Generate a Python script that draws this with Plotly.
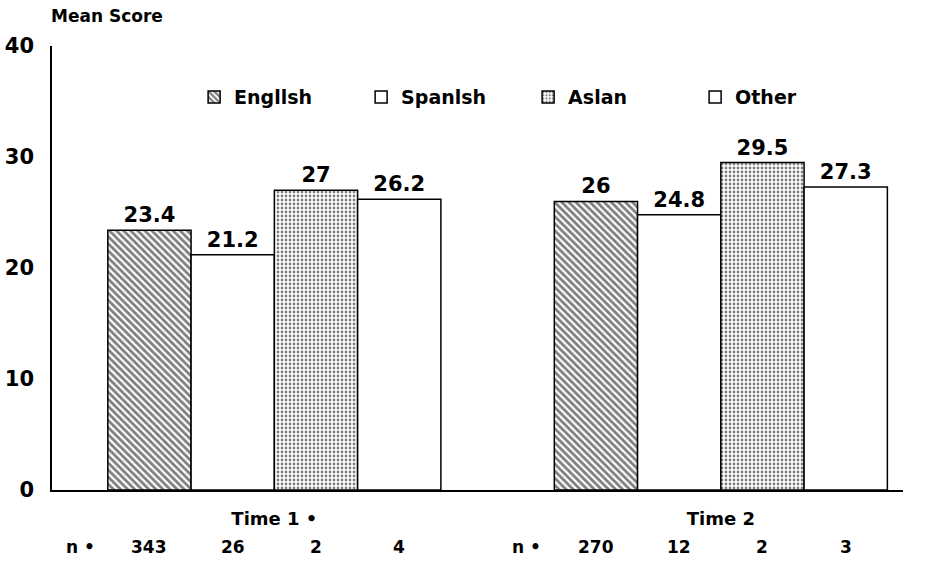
import plotly.graph_objects as go

# Mean scores by home language at two testing times
times = ["Time 1 •", "Time 2"]
languages = ["English", "Spanish", "Asian", "Other"]
scores = {
    "English": [23.4, 26.0],
    "Spanish": [21.2, 24.8],
    "Asian": [27.0, 29.5],
    "Other": [26.2, 27.3],
}
n_counts = {
    "English": [343, 270],
    "Spanish": [26, 12],
    "Asian": [2, 2],
    "Other": [4, 3],
}
legend_names = ["Engllsh", "Spanlsh", "Aslan", "Other"]
patterns = {"English": "\\", "Spanish": "", "Asian": ".", "Other": ""}

FONT = "DejaVu Sans"
BAR_GAP = 0.254

fig = go.Figure()
for lang, lname in zip(languages, legend_names):
    dotted = lang == "Asian"
    fig.add_trace(go.Bar(
        x=times,
        y=scores[lang],
        name=lname,
        text=[f"{v:g}" for v in scores[lang]],
        textposition="outside",
        textfont=dict(family=FONT, size=21, color="black", weight="bold"),
        marker=dict(
            color="white",
            line=dict(color="black", width=1.5),
            pattern=dict(shape=patterns[lang], fgcolor="black", bgcolor="white",
                         size=4 if dotted else 5,
                         solidity=0.38 if dotted else 0.55),
        ),
        cliponaxis=False,
    ))

# sample sizes beneath each bar
bar_w = (1 - BAR_GAP) / len(languages)
n_font = dict(family=FONT, size=17, color="black", weight="bold")
annotations = []
for ti in range(len(times)):
    annotations.append(dict(
        x=ti - 0.435, y=-0.155, xref="x", yref="paper", text="n •",
        showarrow=False, font=n_font,
    ))
    for j, lang in enumerate(languages):
        off = (j - (len(languages) - 1) / 2) * bar_w
        annotations.append(dict(
            x=ti + off, y=-0.155, xref="x", yref="paper",
            text=str(n_counts[lang][ti]), showarrow=False, font=n_font,
        ))

annotations.append(dict(
    x=0, y=1.0, xref="paper", yref="paper", xanchor="left", yanchor="bottom",
    xshift=-3, yshift=18, text="Mean Score", showarrow=False,
    font=dict(family=FONT, size=17, color="black", weight="bold"),
))

fig.update_layout(
    width=933, height=567,
    margin=dict(l=52, r=30, t=46, b=77),
    paper_bgcolor="white", plot_bgcolor="white",
    barmode="group", bargap=BAR_GAP, bargroupgap=0,
    font=dict(family=FONT, color="black"),
    showlegend=True,
    legend=dict(
        orientation="h", x=0.167, xanchor="left", y=0.885, yanchor="middle",
        font=dict(family=FONT, size=19, color="black", weight="bold"),
        entrywidth=122, bgcolor="rgba(0,0,0,0)",
    ),
    annotations=annotations,
)
fig.update_xaxes(
    range=[-0.498, 1.408], showline=True, linecolor="black", linewidth=1.5,
    ticks="", showgrid=False, ticklabelstandoff=12, automargin=False,
    tickfont=dict(family=FONT, size=18, color="black", weight="bold"),
)
fig.update_yaxes(
    range=[0, 40], tickvals=[0, 10, 20, 30, 40], showline=True,
    linecolor="black", linewidth=1.5, ticks="", showgrid=False, zeroline=False,
    ticklabelstandoff=12, automargin=False,
    tickfont=dict(family=FONT, size=21, color="black", weight="bold"),
)

fig.write_html("out.html")
